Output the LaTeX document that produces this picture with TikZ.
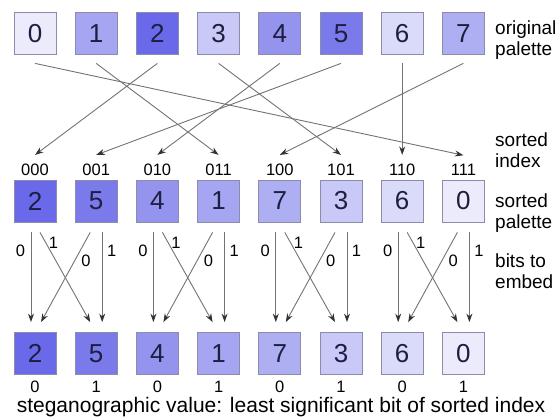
\documentclass[tikz,border=0pt]{standalone}
\usepackage{fontspec}
\setmainfont{Liberation Sans}
\usetikzlibrary{arrows.meta,positioning}
\usepackage{xcolor}

\definecolor{palbase}{RGB}{100,100,232}
\definecolor{digit}{RGB}{30,30,65}
\definecolor{rim}{RGB}{140,140,170}
\colorlet{c0}{palbase!13!white}
\colorlet{c1}{palbase!58!white}
\colorlet{c2}{palbase!97!white}
\colorlet{c3}{palbase!35!white}
\colorlet{c4}{palbase!69!white}
\colorlet{c5}{palbase!86!white}
\colorlet{c6}{palbase!24!white}
\colorlet{c7}{palbase!52!white}

\begin{document}
\begin{tikzpicture}[
    x=1pt, y=1pt,
    node distance=124.7pt and 18.4pt,
    box/.style={rectangle, draw=rim, line width=0.8pt, minimum width=42pt, minimum height=42pt,
                inner sep=0pt, text=digit, font=\fontsize{26}{26}\selectfont},
    idx/.style={inner sep=2pt, font=\fontsize{16.5}{16.5}\selectfont},
    bit/.style={inner sep=1.5pt, font=\fontsize{16.5}{16.5}\selectfont},
    note/.style={anchor=north west, align=left, inner sep=0pt, font=\fontsize{19}{21}\selectfont},
    arrow/.style={-{Stealth[length=8.5pt, width=6pt, color=black!80]}, line width=0.9pt, draw=black!55}
  ]
  \useasboundingbox (0,0) rectangle (559,417);

  % --- original palette ---
  \node[box, fill=c0] (o0) at (35,383.5) {0};
  \node[box, fill=c1, right=of o0] (o1) {1};
  \node[box, fill=c2, right=of o1] (o2) {2};
  \node[box, fill=c3, right=of o2] (o3) {3};
  \node[box, fill=c4, right=of o3] (o4) {4};
  \node[box, fill=c5, right=of o4] (o5) {5};
  \node[box, fill=c6, right=of o5] (o6) {6};
  \node[box, fill=c7, right=of o6] (o7) {7};

  % --- sorted palette with its index ---
  \node[box, fill=c2, below=of o0] (p0) {2};
  \node[box, fill=c5, right=of p0] (p1) {5};
  \node[box, fill=c4, right=of p1] (p2) {4};
  \node[box, fill=c1, right=of p2] (p3) {1};
  \node[box, fill=c7, right=of p3] (p4) {7};
  \node[box, fill=c3, right=of p4] (p5) {3};
  \node[box, fill=c6, right=of p5] (p6) {6};
  \node[box, fill=c0, right=of p6] (p7) {0};
  \node[idx, above=1.6pt of p0] (s0) {000};
  \node[idx, above=1.6pt of p1] (s1) {001};
  \node[idx, above=1.6pt of p2] (s2) {010};
  \node[idx, above=1.6pt of p3] (s3) {011};
  \node[idx, above=1.6pt of p4] (s4) {100};
  \node[idx, above=1.6pt of p5] (s5) {101};
  \node[idx, above=1.6pt of p6] (s6) {110};
  \node[idx, above=1.6pt of p7] (s7) {111};

  % --- result after embedding ---
  \node[box, fill=c2, below=109.7pt of p0] (b0) {2};
  \node[box, fill=c5, right=of b0] (b1) {5};
  \node[box, fill=c4, right=of b1] (b2) {4};
  \node[box, fill=c1, right=of b2] (b3) {1};
  \node[box, fill=c7, right=of b3] (b4) {7};
  \node[box, fill=c3, right=of b4] (b5) {3};
  \node[box, fill=c6, right=of b5] (b6) {6};
  \node[box, fill=c0, right=of b6] (b7) {0};
  \node[bit, below=4.2pt of b0] (v0) {0};
  \node[bit, below=4.2pt of b1] (v1) {1};
  \node[bit, below=4.2pt of b2] (v2) {0};
  \node[bit, below=4.2pt of b3] (v3) {1};
  \node[bit, below=4.2pt of b4] (v4) {0};
  \node[bit, below=4.2pt of b5] (v5) {1};
  \node[bit, below=4.2pt of b6] (v6) {0};
  \node[bit, below=4.2pt of b7] (v7) {1};
  \node[inner sep=0pt, font=\fontsize{21}{21}\selectfont] (cap) at (281,10)
    {steganographic value: least significant bit of sorted index};

  % row captions
  \node[note] (ntop) at (495,396.6) {original\\palette};
  \node[note] (nidx) at (495,284.6) {sorted\\index};
  \node[note] (nsrt) at (495,223.6) {sorted\\palette};
  \node[note] (nbit) at (495,163.6) {bits to\\embed};

  % sorting: original entry -> sorted index
  \foreach \i/\j in {0/7,1/3,2/0,3/5,4/2,5/1,6/6,7/4}
    \draw[arrow] ([yshift=-8.5pt]o\i.south) -- ([yshift=7pt]s\j.north);

  % embedding one bit per pair of neighbours
  \foreach \a/\b in {0/1,2/3,4/5,6/7} {
    \draw[arrow] ([xshift=-4pt,yshift=-10pt]p\a.south) --
      node[bit, pos=0.21, left=4pt] {0} ([xshift=-4pt,yshift=10pt]b\a.north);
    \draw[arrow] ([xshift=5pt,yshift=-10pt]p\a.south) --
      node[bit, pos=0.12, right=1pt] {1} ([xshift=-6pt,yshift=10pt]b\b.north);
    \draw[arrow] ([xshift=-6pt,yshift=-10pt]p\b.south) --
      node[bit, pos=0.32, right=5pt] {0} ([xshift=6pt,yshift=10pt]b\a.north);
    \draw[arrow] ([xshift=6pt,yshift=-10pt]p\b.south) --
      node[bit, pos=0.2, right=3pt] {1} ([xshift=6pt,yshift=10pt]b\b.north);
  }
\end{tikzpicture}
\end{document}
